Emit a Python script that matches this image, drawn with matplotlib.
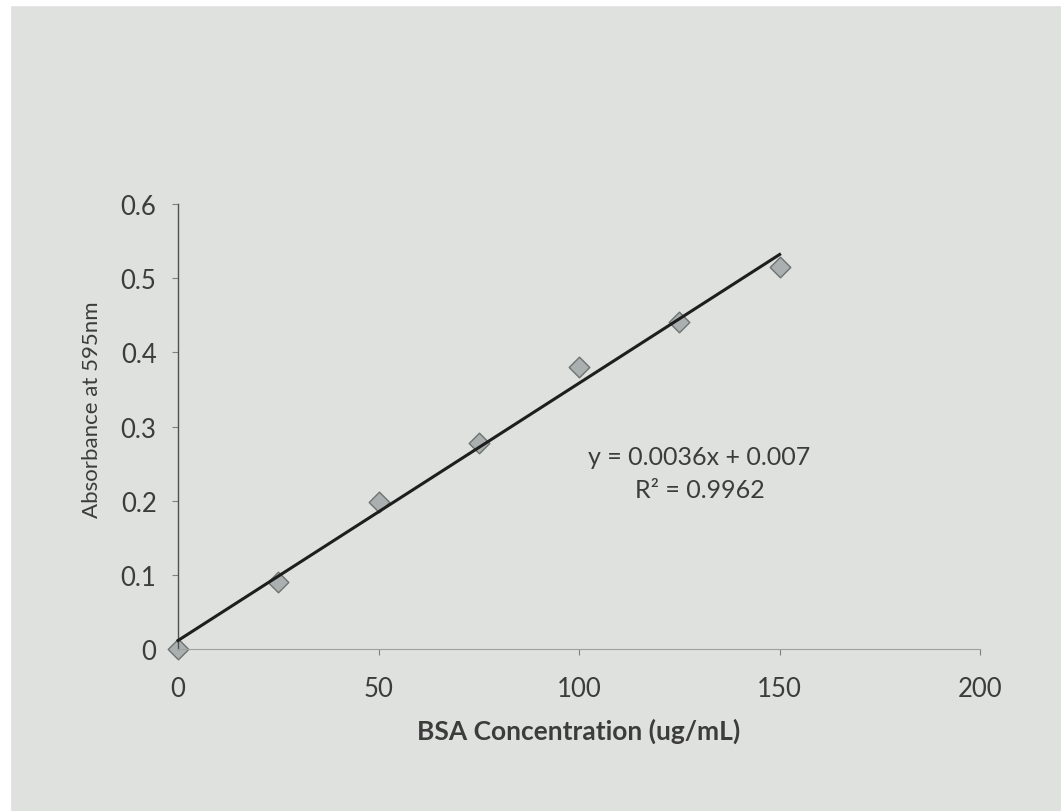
import numpy as np
import matplotlib
matplotlib.use("Agg")
import matplotlib.pyplot as plt
from matplotlib.patches import Rectangle

# Data
bsa_conc = [0, 25, 50, 75, 100, 125, 150]
absorbance = [0.0, 0.090, 0.198, 0.278, 0.380, 0.441, 0.515]
x_ticks = [0, 50, 100, 150, 200]
y_ticks = [0, 0.1, 0.2, 0.3, 0.4, 0.5, 0.6]
y_tick_labels = ["0", "0.1", "0.2", "0.3", "0.4", "0.5", "0.6"]
eq_text = "y = 0.0036x + 0.007"
r2_text = "R² = 0.9962"

plt.rcParams['font.family'] = ['Lato', 'DejaVu Sans']
txt = '#3c3c3c'

fig = plt.figure(figsize=(10.61, 8.12), dpi=100, facecolor='#dfe1de')
# white photo edges
fig.patches.append(Rectangle((0, 0.993), 1, 0.007, transform=fig.transFigure, color='white', zorder=0))
fig.patches.append(Rectangle((0, 0), 0.009, 1, transform=fig.transFigure, color='white', zorder=0))

ax = fig.add_axes([0.1678, 0.1995, 0.756, 0.548])
ax.set_facecolor('none')

ax.set_xlim(0, 200)
ax.set_ylim(0, 0.6)

# trendline (linear fit)
coef = np.polyfit(bsa_conc, absorbance, 1)
xs = np.array([min(bsa_conc), max(bsa_conc)])
ax.plot(xs, np.polyval(coef, xs), color='#1e1e1e', lw=2.2, zorder=3, clip_on=False)

ax.scatter(bsa_conc, absorbance, marker='D', s=110, color='#aab0b0',
           edgecolor='#6d7272', linewidth=1.0, zorder=2, clip_on=False)

ax.set_xticks(x_ticks)
ax.set_yticks(y_ticks)
ax.set_yticklabels(y_tick_labels)
ax.tick_params(axis='both', labelsize=18.5, colors='#808080', labelcolor=txt,
               length=4, width=0.8, direction='out')
ax.tick_params(axis='x', pad=15.5)
ax.tick_params(axis='y', pad=11.5)

for s in ['top', 'right']:
    ax.spines[s].set_visible(False)
ax.spines['left'].set_color('#505050')
ax.spines['left'].set_linewidth(1.0)
ax.spines['bottom'].set_color('#a0a0a0')
ax.spines['bottom'].set_linewidth(0.8)

ax.set_xlabel("BSA Concentration (ug/mL)", fontsize=19, fontweight='bold', color=txt, labelpad=12)
ax.set_ylabel("Absorbance at 595nm", fontsize=16, color=txt, va='center')
ax.yaxis.set_label_coords(-0.107, 0.539)

ax.text(130, 0.259, eq_text, fontsize=18, color=txt, ha='center', va='center')
ax.text(130, 0.2145, r2_text, fontsize=18, color=txt, ha='center', va='center')

fig.savefig("out.png", dpi=100, facecolor=fig.get_facecolor())
